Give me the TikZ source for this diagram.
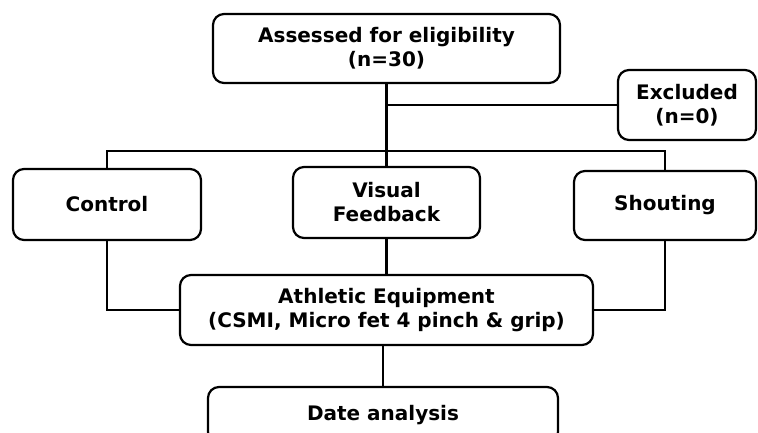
\documentclass[tikz,border=0pt]{standalone}
\usepackage{fontspec}
\setmainfont{DejaVu Sans}
\usetikzlibrary{calc}

\tikzset{
  stage/.style={draw, line width=2.2pt, rounded corners=11pt, align=center,
    font=\fontsize{20}{24}\selectfont\bfseries, inner sep=0pt},
  link/.style={line width=2.2pt}
}

\begin{document}
\begin{tikzpicture}[x=1pt,y=-1pt]
    % Fix the page size
    \useasboundingbox (0,0) rectangle (758,433);

    % Define boxes
    \node[stage, minimum width=347pt, minimum height=69pt] (assess) at (386.5,48.5) {Assessed for eligibility\\(n=30)};
    \node[stage, minimum width=138pt, minimum height=70pt] (excl) at (687,105) {Excluded\\(n=0)};
    \node[stage, minimum width=188pt, minimum height=71pt] (ctrl) at (107,204.5) {Control};
    \node[stage, minimum width=187pt, minimum height=71pt] (visual) at (386.5,202.5) {Visual\\Feedback};
    \node[stage, minimum width=182pt, minimum height=69pt] (shout) at (665,205.5) {Shouting};
    \node[stage, minimum width=413pt, minimum height=70pt] (equip) at (386.5,310) {Athletic Equipment\\(CSMI, Micro fet 4 pinch \& grip)};
    \node[stage, minimum width=350pt, minimum height=56pt] (date) at (383,415) {Date analysis};

    % Branch point above the three groups
    \coordinate (branch) at (386.5,151);

    % Draw connectors
    \draw[link] (assess.south) -- (visual.north);
    \draw[link] (assess.south |- excl.west) -- (excl.west);
    \draw[link] (ctrl.north) |- (branch) -| (shout.north);
    \draw[link] (ctrl.south) |- (equip.west);
    \draw[link] (shout.south) |- (equip.east);
    \draw[link] (visual.south) -- (equip.north);
    \draw[link] (date.north |- equip.south) -- (date.north);
\end{tikzpicture}
\end{document}
